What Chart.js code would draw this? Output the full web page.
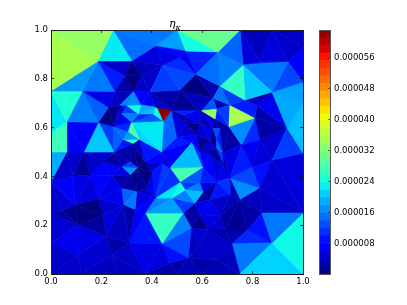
<!DOCTYPE html>
<html>
<head>
<meta charset="utf-8">
<script src="https://cdn.jsdelivr.net/npm/chart.js@4/dist/chart.umd.min.js"></script>
<style>
  html, body { margin: 0; padding: 0; background: #fff; }
  #wrap { position: relative; width: 407px; height: 305px; overflow: hidden; }
  canvas { position: absolute; top: 0; }
  #mesh { left: 0; }
  #bar { left: 319px; }
  #title { position: absolute; left: 169px; top: 17px; font: italic 11px "DejaVu Serif", serif; color: #000; white-space: nowrap; }
  #title sub { font-size: 8px; line-height: 0; }
</style>
</head>
<body>
<div id="wrap">
  <canvas id="mesh" width="407" height="305"></canvas>
  <canvas id="bar" width="88" height="305"></canvas>
  <div id="title">η<sub>κ</sub></div>
</div>
<script>
const axisTicks = [0, 0.2, 0.4, 0.6, 0.8, 1];
const colorbarTicks = [0.000008, 0.000016, 0.000024, 0.000032, 0.00004, 0.000048, 0.000056];
const valueMin = 0.27e-6;
const valueMax = 63.1e-6;
const colorbarBands = 32;

// corners of each cell: x1, y1, x2, y2, x3, y3
const triangles = [
  // top left
  [0,1,.246,1,.187,.873],[0,1,.187,.873,0,.75],[.246,1,.187,.873,.32,.873],[.246,1,.32,.873,.413,.934],
  [.246,1,.5,1,.413,.934],[.32,.873,.413,.934,.444,.857],[.413,.934,.444,.857,.512,.889],[.413,.934,.512,.889,.532,.914],
  [.413,.934,.532,.914,.5,1],[.5,1,.75,1,.663,.91],[.5,1,.663,.91,.532,.914],[.512,.889,.532,.914,.575,.82],
  [.444,.857,.512,.889,.575,.82],[.444,.857,.575,.82,.512,.754],[.444,.857,.393,.747,.512,.754],[.393,.747,.512,.754,.479,.672],
  [.393,.747,.413,.684,.479,.672],[.32,.873,.36,.813,.444,.857],[.36,.813,.444,.857,.393,.747],[.36,.813,.393,.747,.33,.75],
  [.32,.873,.294,.813,.36,.813],[.294,.813,.36,.813,.33,.75],[.294,.813,.254,.748,.33,.75],[.187,.873,.294,.813,.32,.873],
  [.187,.873,.254,.748,.294,.813],[0,.75,.187,.873,.125,.75],[.187,.873,.125,.75,.254,.748],
  // top right
  [.75,1,.663,.91,.762,.857],[.663,.91,.575,.82,.67,.77],[.663,.91,.762,.857,.67,.77],[.532,.914,.663,.91,.575,.82],
  [.67,.77,.762,.857,.77,.713],[.762,.857,.77,.713,.877,.746],[.762,.857,.877,.746,.94,.869],[.877,.746,.94,.869,1,.787],
  [.94,.869,1,.93,1,.787],[.75,1,.762,.857,.83,.87],[.75,1,.877,1,.83,.87],[.877,1,.83,.87,.94,.869],
  [.877,1,1,1,1,.93],[.877,1,1,.93,.94,.869],[.762,.857,.83,.87,.94,.869],[.877,.746,1,.787,1,.7],
  [.877,.746,1,.7,.937,.598],[.937,.598,1,.7,1,.496],[.937,.598,1,.496,.877,.467],
  // right centre
  [.67,.77,.643,.72,.71,.693],[.67,.77,.77,.713,.71,.693],[.77,.713,.71,.693,.81,.64],[.77,.713,.877,.746,.817,.693],
  [.77,.713,.817,.693,.81,.64],[.877,.746,.817,.693,.937,.598],[.817,.693,.81,.64,.937,.598],[.81,.64,.937,.598,.83,.549],
  [.937,.598,.83,.549,.877,.467],[.83,.549,.877,.467,.798,.439],[.756,.529,.83,.549,.798,.439],[.756,.529,.798,.439,.71,.393],
  [.683,.496,.756,.529,.71,.393],[.71,.693,.81,.64,.706,.604],[.706,.604,.81,.64,.756,.529],[.81,.64,.756,.529,.83,.549],
  [.657,.675,.71,.693,.706,.604],[.598,.669,.657,.675,.651,.635],[.657,.675,.651,.635,.706,.604],[.643,.72,.598,.669,.657,.675],
  [.643,.72,.657,.675,.71,.693],[.651,.635,.671,.597,.706,.604],[.671,.597,.706,.604,.683,.496],[.706,.604,.756,.529,.683,.496],
  [.642,.597,.671,.597,.657,.556],[.657,.556,.671,.597,.683,.496],[.657,.515,.657,.556,.683,.496],[.651,.635,.671,.597,.642,.597],
  [.598,.669,.651,.635,.642,.597],[.598,.669,.642,.597,.593,.617],[.593,.617,.642,.597,.63,.55],[.593,.617,.63,.55,.578,.57],
  [.642,.597,.657,.556,.63,.55],[.63,.55,.657,.556,.657,.515],[.578,.57,.63,.55,.59,.5],[.63,.55,.657,.515,.59,.5],
  // upper middle
  [.575,.82,.67,.77,.643,.72],[.575,.82,.512,.754,.643,.72],[.512,.754,.643,.72,.583,.672],[.512,.754,.479,.672,.583,.672],
  [.583,.672,.643,.72,.598,.669],[.479,.672,.583,.672,.525,.651],[.583,.672,.598,.669,.593,.617],[.525,.651,.583,.672,.593,.617],
  [.479,.672,.525,.651,.538,.617],[.479,.672,.538,.617,.5,.563],[.525,.651,.538,.617,.593,.617],[.538,.617,.593,.617,.578,.57],
  [.538,.617,.578,.57,.5,.563],[.5,.563,.578,.57,.56,.54],[.56,.54,.59,.5,.578,.57],[.56,.54,.603,.439,.59,.5],
  // around the red cell
  [.422,.683,.479,.672,.446,.627],[.327,.747,.3,.692,.356,.693],[.3,.692,.356,.693,.347,.656],[.28,.658,.347,.656,.32,.622],
  [.277,.675,.3,.692,.28,.658],[.3,.692,.347,.656,.28,.658],[.356,.693,.413,.684,.347,.656],[.413,.684,.347,.656,.406,.656],
  [.413,.684,.422,.683,.446,.627],[.413,.684,.406,.656,.446,.627],[.347,.656,.406,.656,.32,.622],[.406,.656,.446,.627,.32,.622],
  [.32,.622,.446,.627,.439,.501],[.32,.622,.307,.583,.35,.552],[.32,.622,.35,.552,.439,.501],[.307,.583,.287,.552,.35,.552],
  [.287,.552,.35,.552,.326,.535],[.28,.658,.32,.622,.247,.604],[.247,.604,.32,.622,.307,.583],[.247,.604,.307,.583,.287,.552],
  [.247,.604,.287,.552,.25,.5],[.287,.552,.326,.535,.25,.5],[.35,.552,.326,.535,.37,.46],[.35,.552,.439,.501,.37,.46],
  [.479,.672,.446,.627,.5,.563],[.446,.627,.439,.501,.5,.563],[.413,.684,.422,.683,.479,.672],[.33,.75,.393,.747,.356,.693],
  [.393,.747,.356,.693,.413,.684],[.327,.747,.356,.693,.33,.75],[.274,.692,.33,.75,.3,.692],
  // left side
  [.125,.75,.254,.748,.228,.683],[.125,.75,.228,.683,.188,.622],[.254,.748,.228,.683,.274,.692],[.254,.748,.33,.75,.274,.692],
  [.188,.622,.228,.683,.247,.604],[.228,.683,.274,.692,.247,.604],[.274,.692,.277,.675,.247,.604],[.277,.675,.28,.658,.247,.604],
  [.274,.692,.3,.692,.277,.675],[0,.75,.125,.75,.062,.624],[0,.75,.062,.624,0,.58],[0,.58,.062,.624,.062,.5],
  [0,.58,.062,.5,0,.5],[0,.5,.062,.5,0,.378],[.062,.624,.125,.75,.188,.622],[.062,.624,.188,.622,.13,.5],
  [.062,.624,.13,.5,.062,.5],[.188,.622,.13,.5,.25,.5],[.188,.622,.247,.604,.25,.5],[.062,.5,.13,.5,.088,.403],
  [.13,.5,.088,.403,.155,.406],[.13,.5,.155,.406,.207,.46],[.13,.5,.207,.46,.25,.5],[.155,.406,.207,.46,.24,.405],
  [.207,.46,.25,.5,.28,.44],[.207,.46,.28,.44,.24,.405],[.062,.5,.088,.403,0,.378],
  // bottom left
  [0,.378,.088,.403,.095,.283],[0,.378,.095,.283,.042,.262],[0,.378,.042,.262,0,.249],[0,.249,.042,.262,.108,.2],
  [.042,.262,.095,.283,.108,.2],[.088,.403,.155,.406,.095,.283],[.155,.406,.095,.283,.188,.31],[.095,.283,.188,.31,.207,.242],
  [.095,.283,.207,.242,.108,.2],[.108,.2,.207,.242,.218,.157],[.155,.406,.24,.405,.188,.31],[.24,.405,.28,.35,.188,.31],
  [.188,.31,.28,.35,.287,.283],[.188,.31,.287,.283,.207,.242],[.207,.242,.287,.283,.218,.157],[.287,.283,.31,.126,.218,.157],
  [.287,.283,.333,.262,.31,.126],[.218,.157,.24,.078,.31,.126],[0,0,0,.126,.108,.078],[0,0,.108,.078,.12,0],
  [0,.126,.108,.2,.108,.078],[0,.249,0,.126,.108,.2],[.108,.078,.108,.2,.218,.157],[.108,.078,.218,.157,.24,.078],
  [.108,.078,.24,.078,.12,0],[.12,0,.24,.078,.27,0],[.24,.078,.27,0,.373,0],[.24,.078,.31,.126,.373,0],
  [.31,.126,.44,.123,.373,0],[.373,0,.44,.123,.47,.045],[.44,.123,.544,.066,.47,.045],[.373,0,.47,.045,.5,0],
  [.47,.045,.544,.066,.5,0],[.5,0,.544,.066,.6,0],[.31,.126,.333,.262,.373,.25],[.31,.126,.373,.25,.44,.123],
  // centre
  [.333,.262,.373,.25,.413,.311],[.287,.283,.34,.337,.333,.262],[.28,.35,.34,.337,.287,.283],[.34,.337,.413,.311,.333,.262],
  [.24,.405,.28,.44,.314,.406],[.28,.44,.314,.46,.343,.436],[.28,.44,.343,.436,.314,.406],[.24,.405,.314,.406,.28,.35],
  [.314,.406,.34,.337,.28,.35],[.314,.406,.343,.436,.34,.337],[.25,.5,.314,.46,.28,.44],[.25,.5,.326,.535,.314,.46],
  [.326,.535,.343,.436,.314,.46],[.326,.535,.37,.46,.343,.436],[.37,.46,.4,.419,.343,.436],[.343,.436,.4,.419,.38,.351],
  [.343,.436,.38,.351,.34,.337],[.34,.337,.38,.351,.413,.311],[.38,.351,.4,.419,.413,.311],[.4,.419,.444,.453,.413,.311],
  [.37,.46,.444,.453,.4,.419],[.439,.501,.444,.453,.37,.46],[.439,.501,.472,.434,.444,.453],[.444,.453,.472,.434,.413,.311],
  [.472,.434,.512,.377,.413,.311],[.472,.434,.603,.439,.56,.54],[.439,.501,.56,.54,.472,.434],[.439,.501,.5,.563,.56,.54],
  [.472,.434,.603,.439,.512,.377],[.512,.377,.603,.439,.59,.373],[.413,.311,.512,.377,.48,.311],[.512,.377,.48,.311,.532,.344],
  [.532,.344,.603,.336,.571,.291],[.532,.344,.59,.373,.603,.336],[.512,.377,.59,.373,.532,.344],[.373,.25,.413,.311,.48,.311],
  [.373,.25,.48,.311,.524,.25],[.48,.311,.532,.344,.571,.291],[.48,.311,.571,.291,.524,.25],[.373,.25,.524,.25,.44,.123],
  [.524,.25,.556,.189,.44,.123],[.44,.123,.556,.189,.544,.066],
  // lower right
  [.6,0,.544,.066,.655,.057],[.6,0,.655,.057,.75,0],[.655,.057,.718,.123,.75,0],[.544,.066,.591,.123,.655,.057],
  [.591,.123,.718,.123,.655,.057],[.556,.189,.591,.123,.544,.066],[.556,.189,.623,.18,.591,.123],[.623,.18,.718,.123,.591,.123],
  [.623,.18,.69,.18,.718,.123],[.524,.25,.556,.189,.591,.24],[.556,.189,.591,.24,.623,.18],[.591,.24,.67,.24,.623,.18],
  [.67,.24,.69,.18,.623,.18],[.67,.24,.75,.303,.69,.18],[.631,.303,.591,.24,.67,.24],[.571,.291,.631,.303,.591,.24],
  [.524,.25,.571,.291,.591,.24],[.631,.303,.71,.324,.67,.24],[.71,.324,.75,.303,.67,.24],[.659,.377,.71,.393,.71,.324],
  [.631,.303,.659,.377,.71,.324],[.71,.324,.71,.393,.75,.303],[.683,.496,.71,.393,.683,.447],[.683,.447,.71,.393,.659,.377],
  [.631,.488,.683,.447,.657,.515],[.631,.488,.657,.515,.59,.5],[.683,.447,.683,.496,.657,.515],[.631,.488,.683,.447,.659,.377],
  [.603,.439,.631,.488,.659,.377],[.59,.373,.603,.439,.659,.377],[.59,.373,.659,.377,.603,.336],[.603,.336,.659,.377,.631,.303],
  [.571,.291,.603,.336,.631,.303],[.59,.5,.631,.488,.603,.439],[1,.25,.837,.25,.877,.127],[1,.25,.877,.127,1,0],
  [.877,.127,1,0,.75,0],[.718,.123,.877,.127,.75,0],[.837,.25,.877,.127,.78,.18],[.78,.18,.877,.127,.718,.123],
  [.75,.303,.837,.25,.78,.18],[.75,.303,.78,.18,.69,.18],[.69,.18,.78,.18,.718,.123],[.83,.352,.837,.25,.75,.303],
  [1,.25,.837,.25,.83,.352],[1,.25,.83,.352,.877,.467],[1,.25,.877,.467,1,.496],[.798,.439,.877,.467,.83,.352],
  [.71,.393,.798,.439,.83,.352],[.71,.393,.83,.352,.75,.303]
];

// one value per cell, same order and rows as triangles (units of 1e-6)
const triValues = [
  // top left
  33.7,35,22.6,14.9,
  15.5,5.3,5.8,7.5,
  18,30.1,23.8,5.8,
  10.6,12.5,11.8,2.5,
  4,3.7,4.2,4.2,
  0.4,0.3,2.5,4.2,
  9.8,17.4,15.5,
  // top right
  14.3,14.9,16.1,10,
  26.3,20.4,15.5,12.5,
  7.5,5.3,3.7,5.3,
  4.2,4.2,10.6,18,
  18.6,19.8,11.8,
  // right centre
  14.9,11.8,9.8,3.1,
  9.8,6.4,2.5,2.5,
  4.7,5.3,6.4,9.8,
  5.8,35.2,16.7,10.6,
  11.8,33.7,9.8,13.6,
  3.1,1.5,2.5,2.5,
  12.5,9.8,14.9,3.1,
  5.3,3.7,5.8,4.7,
  0.9,0.9,1.5,4.2,
  // upper middle
  3.1,0.4,3.7,1.5,
  3.7,10,4.2,6.2,
  1.5,5.3,3.1,0.9,
  4.7,7.5,7.5,10.6,
  // around the red cell
  62.5,16.7,23.8,16.1,
  5.3,11.8,18.6,19.8,
  22.8,23.8,10.6,13.6,
  22.4,28,21.5,17.4,
  25.5,6.4,10.6,14.9,
  14,9.4,3.7,9.4,
  14.3,14.3,3.1,7.5,
  6.4,9.4,16.1,
  // left side
  5.8,14,4.2,3.7,
  0.4,0.9,4.2,4.2,
  5.3,24.8,22.4,27,
  27,18.6,16.1,7.2,
  7.5,20.4,11.8,4.2,
  1.5,4.2,4.7,7.5,
  2,7.5,4.5,
  // bottom left
  7.5,4.7,4.2,2.5,
  0.9,5.8,5.3,0.3,
  0.4,2,7.5,5.8,
  6.4,4.7,5.3,3.7,
  2.5,2.5,4.2,4.2,
  6.4,4.7,5.8,4.7,
  4.7,3.7,3.7,4.2,
  5.8,5.3,9,2.5,
  2.5,3.1,7.5,9.4,
  // centre
  7.5,15.5,14.3,5.8,
  5.3,11.8,17.4,2.5,
  2.5,0.4,3.1,2.5,
  1.5,0.3,0.3,0.4,
  1.5,4.2,6.4,9.4,
  4.2,7.5,4.7,11.8,
  11.2,19.8,7.5,9.8,
  27.5,13.6,22.5,23.8,
  19.8,16.1,11.8,16.1,
  18,16.1,11.8,26.3,
  16.1,12.5,
  // lower right
  2.5,3.1,3.7,4.2,
  4.2,3.7,4.7,4.2,
  2.5,2.5,0.9,5.3,
  4.7,2,6.4,5.8,
  2.5,4.2,3.7,11.2,
  9.4,3.1,2,6.4,
  2,3.7,11.8,5.3,
  7.5,9.8,5.8,1.5,
  2.5,7.5,15.5,23.5,
  21.1,15.5,9,10.6,
  2.5,1.5,3.1,3.7,
  4.2,4.7,5.3,9,
  12.5,16.7
];

// matplotlib jet
function interp(t, xs, ys) {
  for (let i = 1; i < xs.length; i++) {
    if (t <= xs[i]) {
      return ys[i - 1] + ((t - xs[i - 1]) / (xs[i] - xs[i - 1])) * (ys[i] - ys[i - 1]);
    }
  }
  return ys[ys.length - 1];
}

function jet(value) {
  const t = Math.min(1, Math.max(0, (value - valueMin) / (valueMax - valueMin)));
  const r = interp(t, [0, 0.35, 0.66, 0.89, 1], [0, 0, 1, 1, 0.5]);
  const g = interp(t, [0, 0.125, 0.375, 0.64, 0.91, 1], [0, 0, 1, 1, 0, 0]);
  const b = interp(t, [0, 0.11, 0.34, 0.65, 1], [0.5, 1, 1, 0, 0]);
  return `rgb(${Math.round(r * 255)},${Math.round(g * 255)},${Math.round(b * 255)})`;
}

const tickFont = { family: "'DejaVu Sans'", size: 8.5 };

function fixedSize(px) {
  return (scale) => {
    if (scale.isHorizontal()) scale.height = px;
    else scale.width = px;
  };
}

function meshAxis(position, size, labels) {
  return {
    type: "linear",
    position: position,
    min: 0,
    max: 1,
    afterFit: fixedSize(size),
    afterBuildTicks: (scale) => {
      scale.ticks = axisTicks.map((v) => ({ value: v }));
    },
    border: { display: true, color: "#222", width: 1, z: 2 },
    grid: { drawOnChartArea: false, drawTicks: true, tickLength: -3, tickColor: "#000", tickWidth: 0.7, z: 2 },
    ticks: {
      display: labels,
      autoSkip: false,
      maxRotation: 0,
      padding: 6,
      color: "#000",
      font: tickFont,
      callback: (v) => v.toFixed(1),
    },
  };
}

new Chart(document.getElementById("mesh"), {
  type: "scatter",
  data: {
    datasets: triangles.map((t, i) => ({
      // back to the first corner so the outline closes too
      data: [
        { x: t[0], y: t[1] },
        { x: t[2], y: t[3] },
        { x: t[4], y: t[5] },
        { x: t[0], y: t[1] },
      ],
      showLine: true,
      fill: "shape",
      backgroundColor: jet(triValues[i] * 1e-6),
      borderColor: jet(triValues[i] * 1e-6),
      borderWidth: 0.6,
      pointRadius: 0,
      tension: 0,
    })),
  },
  options: {
    responsive: false,
    animation: false,
    events: [],
    layout: { padding: 0 },
    plugins: { legend: { display: false }, tooltip: { enabled: false } },
    scales: {
      x: meshAxis("bottom", 31, true),
      y: meshAxis("left", 51, true),
      xTop: Object.assign(meshAxis("top", 30, false), { axis: "x" }),
      yRight: Object.assign(meshAxis("right", 104, false), { axis: "y" }),
    },
  },
});

// colour bar
const bandEdges = [];
for (let i = 0; i <= colorbarBands; i++) {
  bandEdges.push(valueMin + ((valueMax - valueMin) * i) / colorbarBands);
}

const frame = {
  id: "frame",
  afterDraw(chart) {
    const { ctx, chartArea: a } = chart;
    ctx.save();
    ctx.strokeStyle = "#555";
    ctx.lineWidth = 1;
    ctx.strokeRect(a.left + 0.5, a.top + 0.5, a.right - a.left - 1, a.bottom - a.top);
    ctx.restore();
  },
};

new Chart(document.getElementById("bar"), {
  type: "bar",
  data: {
    labels: [""],
    datasets: bandEdges.slice(0, -1).map((lo, i) => ({
      data: [[lo, bandEdges[i + 1]]],
      backgroundColor: jet((lo + bandEdges[i + 1]) / 2),
      barPercentage: 1,
      categoryPercentage: 1,
      grouped: false,
      borderWidth: 0,
    })),
  },
  options: {
    responsive: false,
    animation: false,
    events: [],
    layout: { padding: { top: 30, bottom: 31 } },
    plugins: { legend: { display: false }, tooltip: { enabled: false } },
    scales: {
      x: { display: false },
      y: {
        position: "right",
        min: valueMin,
        max: valueMax,
        afterFit: fixedSize(76),
        afterBuildTicks: (scale) => {
          scale.ticks = colorbarTicks.map((v) => ({ value: v }));
        },
        border: { display: false },
        grid: { drawOnChartArea: false, drawTicks: true, tickLength: -3, tickColor: "#333", tickWidth: 0.7, z: 2 },
        ticks: {
          autoSkip: false,
          padding: 6,
          color: "#000",
          font: tickFont,
          callback: (v) => v.toFixed(6),
        },
      },
    },
  },
  plugins: [frame],
});
</script>
</body>
</html>
